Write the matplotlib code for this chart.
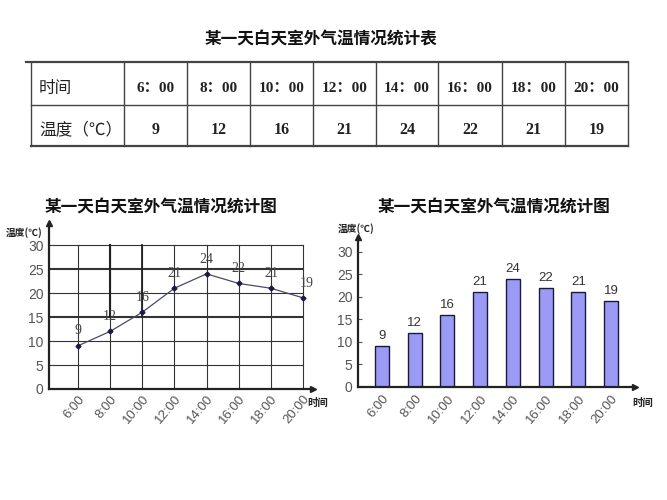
import numpy as np
import matplotlib.pyplot as plt

plt.rcParams['font.family'] = ['Liberation Sans', 'Noto Sans CJK SC', 'DejaVu Sans']
plt.rcParams['axes.unicode_minus'] = False

# 数据
times = ['6:00', '8:00', '10:00', '12:00', '14:00', '16:00', '18:00', '20:00']
table_times = ['6：00', '8：00', '10：00', '12：00', '14：00', '16：00', '18：00', '20：00']
temps = [9, 12, 16, 21, 24, 22, 21, 19]
yticks = [0, 5, 10, 15, 20, 25, 30]

table_title = '某一天白天室外气温情况统计表'
chart_title = '某一天白天室外气温情况统计图'
row_names = ['时间', '温度（℃）']

W, H = 667, 500
fig = plt.figure(figsize=(W / 100, H / 100), dpi=100)


def box(l, t, r, b):
    return [l / W, 1 - b / H, (r - l) / W, (b - t) / H]


# 背景层（像素坐标），画表格和标题
bg = fig.add_axes([0, 0, 1, 1])
bg.set_xlim(0, W)
bg.set_ylim(H, 0)
bg.axis('off')

cjk = ['Noto Sans CJK SC', 'DejaVu Sans']
serif = ['Liberation Serif', 'Noto Sans CJK SC', 'DejaVu Sans']

bg.text(321, 40, table_title, family=cjk, fontsize=12, fontweight='bold',
        ha='center', va='center', color='#111111')

col_x = [31, 124, 187, 250, 313, 376, 438, 502, 565, 628]
row_y = [62, 105, 146]
lc = '#444444'
for i, y in enumerate(row_y):
    bg.plot([26 if i == 0 else 31, 628], [y, y], color=lc, lw=1.6 if i != 1 else 1.0)
for x in col_x:
    bg.plot([x, x], [62, 146], color=lc, lw=1.0)

bg.text(39, 88, row_names[0], family=cjk, fontsize=12, ha='left', va='center', color='#222222')
bg.text(39, 130, row_names[1], family=cjk, fontsize=12, ha='left', va='center', color='#222222')
for i in range(len(times)):
    cx = (col_x[i + 1] + col_x[i + 2]) / 2
    bg.text(cx, 88, table_times[i], family=serif, fontsize=11, fontweight='bold',
            ha='center', va='center', color='#222222')
    bg.text(cx, 130, str(temps[i]), family=serif, fontsize=11.5, fontweight='bold',
            ha='center', va='center', color='#222222')

bg.text(161, 207, chart_title, family=cjk, fontsize=12, fontweight='bold',
        ha='center', va='center', color='#111111')
bg.text(494, 207, chart_title, family=cjk, fontsize=12, fontweight='bold',
        ha='center', va='center', color='#111111')

x = np.arange(len(times))
tick_color = '#555555'


def style_axes(ax):
    for s in ['top', 'right']:
        ax.spines[s].set_visible(False)
    for s in ['left', 'bottom']:
        ax.spines[s].set_color('#222222')
        ax.spines[s].set_linewidth(1.6)
    ax.plot(1, 0, '>', color='#222222', ms=5, transform=ax.transAxes, clip_on=False)
    ax.plot(0, 1, '^', color='#222222', ms=5, transform=ax.transAxes, clip_on=False)
    ax.set_xticks(x)
    ax.set_xticklabels(times, rotation=50, ha='right', va='top', rotation_mode='anchor',
                       color=tick_color, fontsize=9.5)
    ax.set_yticks(yticks)
    ax.set_yticklabels([str(v) for v in yticks], color=tick_color, fontsize=10)
    ax.set_facecolor('none')


# 折线图
ax1 = fig.add_axes(box(49, 223, 313, 389))
ax1.set_xlim(-0.9, 7.31)
ax1.set_ylim(0, 34.6)
for v in yticks[1:]:
    ax1.plot([-0.9, 7], [v, v], color='#333333', lw=1.5 if v in (15, 25) else 0.8, zorder=1)
for i in x:
    ax1.plot([i, i], [0, 30], color='#333333', lw=0.8, zorder=1)
ax1.plot([1, 1], [15, 30], color='#222222', lw=1.5, zorder=1)
ax1.plot([2, 2], [15, 30], color='#222222', lw=1.3, zorder=1)
ax1.plot(x, temps, color='#4a4a6a', lw=0.9, marker='D', ms=2.5, mfc='#1a1a4a', mec='#1a1a4a', zorder=3)
for i, t in enumerate(temps):
    dx = 3 if i == len(temps) - 1 else 0
    ax1.annotate(str(t), (i, t), xytext=(dx, 6), textcoords='offset points', ha='center', va='bottom',
                 family=serif, fontsize=10, color='#444444')
style_axes(ax1)
ax1.tick_params(axis='x', length=0, pad=3)
ax1.tick_params(axis='y', length=0, pad=4)
bg.text(307, 403, '时间', family=cjk, fontsize=7.5, fontweight='bold', ha='left', va='center', color='#222222')
bg.text(6, 233, '温度(℃)', family=cjk, fontsize=7, fontweight='bold', ha='left', va='center', color='#222222')

# 柱状图
ax2 = fig.add_axes(box(358, 237, 635, 387))
ax2.set_xlim(-0.73, 7.73)
ax2.set_ylim(0, 33.3)
ax2.bar(x, temps, width=0.43, color='#9b9bf5', edgecolor='#1a1a3a', linewidth=1.0, zorder=2)
for i, t in enumerate(temps):
    ax2.annotate(str(t), (i, t), xytext=(0, 3), textcoords='offset points', ha='center', va='bottom',
                 fontsize=9.5, color='#333333')
style_axes(ax2)
ax2.tick_params(axis='x', length=0, pad=4)
ax2.tick_params(axis='y', direction='in', length=3, color='#555555', pad=4)
bg.text(632, 403, '时间', family=cjk, fontsize=7.5, fontweight='bold', ha='left', va='center', color='#222222')
bg.text(338, 229, '温度(℃)', family=cjk, fontsize=7, fontweight='bold', ha='left', va='center', color='#222222')

fig.savefig('out.png', dpi=100)
